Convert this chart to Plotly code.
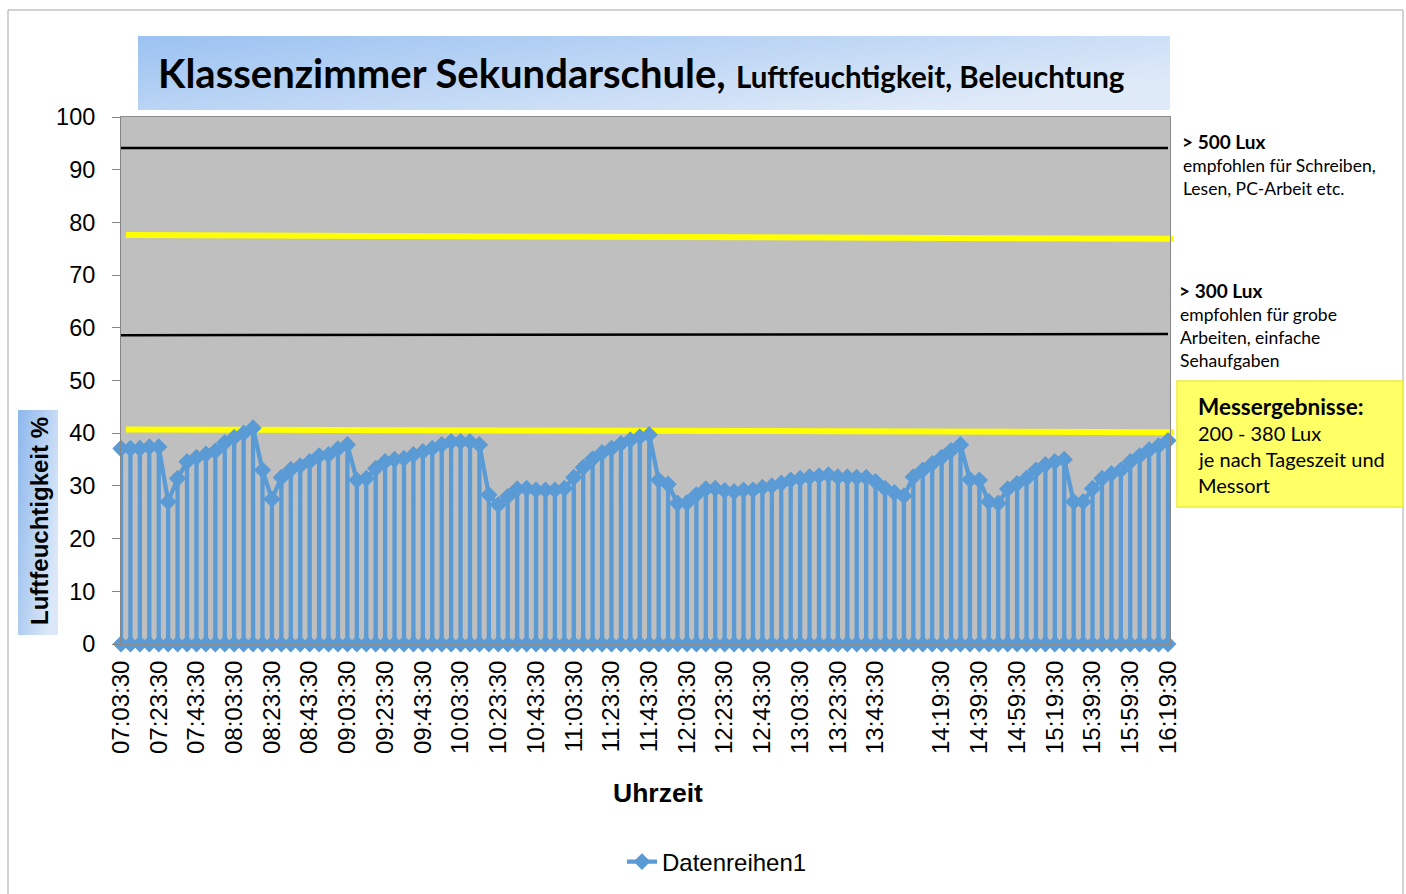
import base64
import plotly.graph_objects as go

# ---------------- data ----------------
humidity = [37.1, 37.1, 37.1, 37.4, 37.4, 27.0, 31.4, 34.6, 35.4, 36.0,
            36.6, 38.2, 39.2, 40.0, 41.0, 33.0, 27.5, 31.6, 33.1, 33.8,
            34.6, 35.7, 35.9, 37.0, 37.8, 31.1, 31.4, 33.3, 34.6, 35.0,
            35.2, 35.9, 36.5, 37.1, 37.8, 38.4, 38.4, 38.4, 37.8, 28.3,
            26.4, 28.0, 29.4, 29.5, 29.2, 29.2, 29.2, 29.5, 31.6, 33.5,
            35.1, 36.3, 37.1, 38.0, 38.7, 39.3, 39.7, 31.1, 30.3, 26.7,
            26.8, 28.3, 29.4, 29.5, 29.1, 28.9, 29.2, 29.2, 29.7, 30.0,
            30.5, 31.1, 31.4, 31.7, 31.9, 32.1, 31.7, 31.7, 31.6, 31.6,
            30.8, 29.5, 28.7, 28.1, 31.7, 33.0, 34.2, 35.4, 36.7, 37.8,
            31.2, 31.1, 27.0, 26.7, 29.4, 30.4, 31.4, 33.0, 34.0, 34.6,
            35.0, 27.0, 27.0, 29.5, 31.4, 32.3, 33.0, 34.6, 35.7, 36.8,
            37.6, 38.6]

tick_labels = ["07:03:30", "07:23:30", "07:43:30", "08:03:30", "08:23:30",
               "08:43:30", "09:03:30", "09:23:30", "09:43:30", "10:03:30",
               "10:23:30", "10:43:30", "11:03:30", "11:23:30", "11:43:30",
               "12:03:30", "12:23:30", "12:43:30", "13:03:30", "13:23:30",
               "13:43:30", "14:19:30", "14:39:30", "14:59:30", "15:19:30",
               "15:39:30", "15:59:30", "16:19:30"]
tick_index = [0, 4, 8, 12, 16, 20, 24, 28, 32, 36, 40, 44, 48, 52, 56, 60,
              64, 68, 72, 76, 80, 87, 91, 95, 99, 103, 107, 111]

# reference lines (value at left end, value at right end)
black_lines = [(94.1, 94.1), (58.6, 58.8)]
yellow_lines = [(77.6, 76.9), (40.7, 40.2)]

series_name = "Datenreihen1"
y_title = "Luftfeuchtigkeit %"
x_title = "Uhrzeit"

# ---------------- layout geometry (page pixels) ----------------
W, H = 1406, 894
L, R, T, B = 121, 1170, 117, 644


def px(xp):
    return (xp - L) / (R - L)


def py(yp):
    return (B - yp) / (B - T)


def grad_img(c1, c2):
    svg = ('<svg xmlns="http://www.w3.org/2000/svg" width="200" height="100" '
           'viewBox="0 0 200 100" preserveAspectRatio="none">'
           '<defs><linearGradient id="g" x1="0" y1="0" x2="1" y2="0.6">'
           f'<stop offset="0" stop-color="{c1}"/><stop offset="1" stop-color="{c2}"/>'
           '</linearGradient></defs><rect width="200" height="100" fill="url(#g)"/></svg>')
    return "data:image/svg+xml;base64," + base64.b64encode(svg.encode()).decode()


# stem-style series: value -> 0 -> value for each category
xs, ys = [], []
for i, v in enumerate(humidity):
    xs += [i, i, i]
    ys += [v, 0, v]

blue = "#5B9BD5"
fig = go.Figure()
fig.add_trace(go.Scatter(
    x=xs, y=ys, mode="lines+markers", name=series_name,
    line=dict(color=blue, width=4.3),
    marker=dict(symbol="diamond", size=13, color=blue),
    cliponaxis=False, showlegend=True))

n = len(humidity)
xmax = (n - 1) + 2 / 9.43

shapes = []
# outer chart border
shapes.append(dict(type="rect", xref="paper", yref="paper",
                   x0=px(8), x1=px(1403), y0=py(1000), y1=py(10),
                   line=dict(color="#A6A6A6", width=1), fillcolor="rgba(0,0,0,0)",
                   layer="below"))
for (a, b) in black_lines:
    shapes.append(dict(type="line", xref="x", yref="y", x0=0, x1=n - 1, y0=a, y1=b,
                       line=dict(color="black", width=2.5), layer="below"))
for (a, b) in yellow_lines:
    shapes.append(dict(type="line", xref="paper", yref="y", x0=px(126), x1=px(1174),
                       y0=a, y1=b, line=dict(color="#FFFF00", width=6), layer="below"))
# yellow result box
shapes.append(dict(type="rect", xref="paper", yref="paper",
                   x0=px(1177), x1=px(1403), y0=py(507), y1=py(381),
                   fillcolor="#FFFF66", line=dict(color="#EDED3A", width=1.5)))

images = [
    dict(source=grad_img("#9BC2F1", "#DFEAF8"), xref="paper", yref="paper",
         x=px(138), y=py(36), sizex=px(1170) - px(138), sizey=py(36) - py(110),
         xanchor="left", yanchor="top", sizing="stretch", layer="below"),
    dict(source=grad_img("#8DB7EC", "#DCE8F8"), xref="paper", yref="paper",
         x=px(18), y=py(410), sizex=px(58) - px(18), sizey=py(410) - py(635),
         xanchor="left", yanchor="top", sizing="stretch", layer="below"),
]

note_font = "Lato, 'Open Sans', sans-serif"
sans = "'Liberation Sans', Arial, sans-serif"
annotations = [
    dict(text="<b>Klassenzimmer Sekundarschule,</b> "
              "<b><span style='font-size:29.5px'>Luftfeuchtigkeit, Beleuchtung</span></b>",
         xref="paper", yref="paper", x=px(156), y=py(73), xanchor="left",
         yanchor="middle", showarrow=False,
         font=dict(family=note_font, size=40, color="black")),
    dict(text=f"<b>{y_title}</b>", xref="paper", yref="paper", x=px(39), y=py(521),
         xanchor="center", yanchor="middle", textangle=-90, showarrow=False,
         font=dict(family=sans, size=24, color="black")),
    dict(text=f"<b>{x_title}</b>", xref="paper", yref="paper", x=px(658), y=py(793),
         xanchor="center", yanchor="middle", showarrow=False,
         font=dict(family=sans, size=26.5, color="black")),
]

right_notes = [
    ("<b>> 500 Lux</b>", 1180, 141, 19),
    ("empfohlen für Schreiben,", 1181, 165, 17.5),
    ("Lesen, PC-Arbeit etc.", 1181, 188, 17.5),
    ("<b>> 300 Lux</b>", 1177, 290, 19),
    ("empfohlen für grobe", 1178, 314, 17.5),
    ("Arbeiten, einfache", 1178, 337, 17.5),
    ("Sehaufgaben", 1178, 360, 17.5),
    ("<b>Messergebnisse:</b>", 1196, 406, 22.5),
    ("200 - 380 Lux", 1196, 433, 20),
    ("je nach Tageszeit und", 1196, 459, 20),
    ("Messort", 1196, 485, 20),
]
for txt, xx, yy, fs in right_notes:
    annotations.append(dict(text=txt, xref="paper", yref="paper", x=px(xx), y=py(yy),
                            xanchor="left", yanchor="middle", showarrow=False,
                            font=dict(family=note_font, size=fs, color="black")))

fig.update_layout(
    width=W, height=H,
    margin=dict(l=L, r=W - R, t=T, b=H - B, autoexpand=False),
    paper_bgcolor="white", plot_bgcolor="#BFBFBF",
    shapes=shapes, images=images, annotations=annotations,
    showlegend=True,
    legend=dict(orientation="h", xref="container", yref="container",
                x=717 / W, y=1 - 862 / H,
                xanchor="center", yanchor="middle",
                font=dict(family=sans, size=24, color="black"),
                bgcolor="rgba(0,0,0,0)"),
    xaxis=dict(range=[0, xmax], tickmode="array", tickvals=tick_index, ticktext=tick_labels,
               tickangle=-90, tickfont=dict(family=sans, size=24, color="black"),
               showgrid=False, zeroline=False,
               showline=True, linecolor="#8C8C8C", linewidth=1, mirror=True,
               ticks="", ticklabelstandoff=6),
    yaxis=dict(range=[0, 100], dtick=10, tickfont=dict(family=sans, size=23.5, color="black"),
               showgrid=False, zeroline=False, showline=True, linecolor="#868686",
               linewidth=1, mirror=True,
               ticks="outside", ticklen=8, tickcolor="#868686", ticklabelstandoff=12),
)

fig.write_html("out.html",
               config={"displayModeBar": False},
               post_script="document.body.style.margin='0';"
                           "document.body.style.overflow='hidden';")
